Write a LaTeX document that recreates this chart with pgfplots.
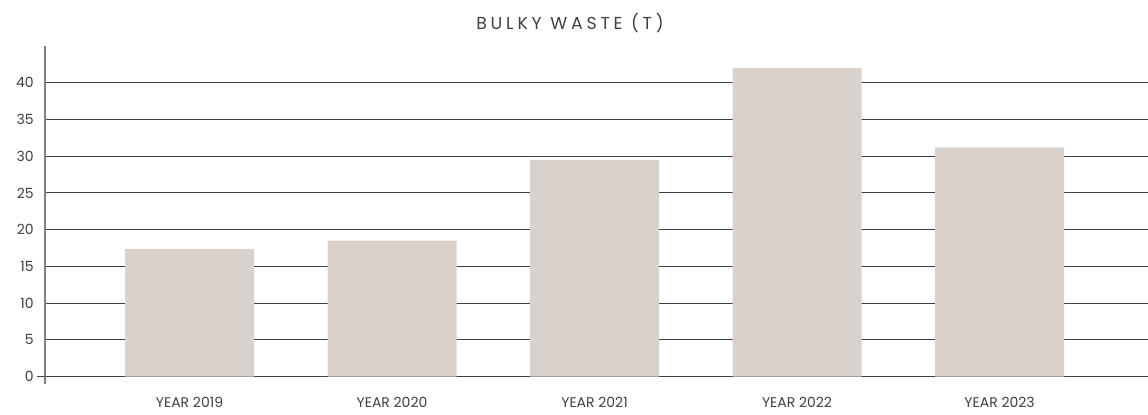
\documentclass[border=0pt]{standalone}
\usepackage{fontspec}
\setmainfont{Poppins}
\newfontfamily\titlefont[LetterSpace=22]{Poppins}
\usepackage{pgfplots}
\pgfplotsset{compat=1.18}
\definecolor{barc}{HTML}{D9D1CB}
\definecolor{gridc}{HTML}{404040}
\definecolor{axc}{HTML}{808080}
\definecolor{txt}{HTML}{404040}
\begin{document}
\begin{tikzpicture}
\path[use as bounding box] (-33.75pt,-22.5pt) rectangle (827.25pt,288pt);
\begin{axis}[
  at={(0,0)}, anchor=south west,
  scale only axis,
  width=827.25pt, height=253.5pt,
  xmin=-0.7136, xmax=4.733,
  ymin=-1, ymax=45,
  axis x line=none,
  axis y line*=left,
  y axis line style={draw=axc, line width=0.9pt, -},
  ytick={0,5,...,40},
  ymajorgrids,
  major grid style={draw=gridc, line width=0.7pt},
  major tick length=6pt,
  ytick style={draw=gridc, line width=0.7pt},
  yticklabel style={font=\fontsize{10.5}{12}\selectfont, text=txt, xshift=-5pt},
  /pgf/number format/assume math mode=true,
  ybar, bar width=0.637,
  clip=false,
]
\addplot[fill=barc, draw=none] coordinates {(0,17.4) (1,18.5) (2,29.5) (3,42.0) (4,31.2)};
\foreach \i/\lab in {0/YEAR 2019,1/YEAR 2020,2/YEAR 2021,3/YEAR 2022,4/YEAR 2023}{
  \edef\tmp{\noexpand\node[anchor=base, font=\noexpand\fontsize{10.5}{12}\noexpand\selectfont, text=txt] at (axis cs:\i,-1) [yshift=-17.5pt] {\lab};}
  \tmp
}
\draw[gridc, line width=0.7pt] (axis cs:-0.7136,0) -- ([xshift=-6pt]axis cs:-0.7136,0);
\node[anchor=base, font=\titlefont\fontsize{13}{14}\selectfont, text=txt] at (axis cs:1.879,45) [yshift=12.5pt] {BULKY WASTE (T)};
\end{axis}
\end{tikzpicture}
\end{document}
